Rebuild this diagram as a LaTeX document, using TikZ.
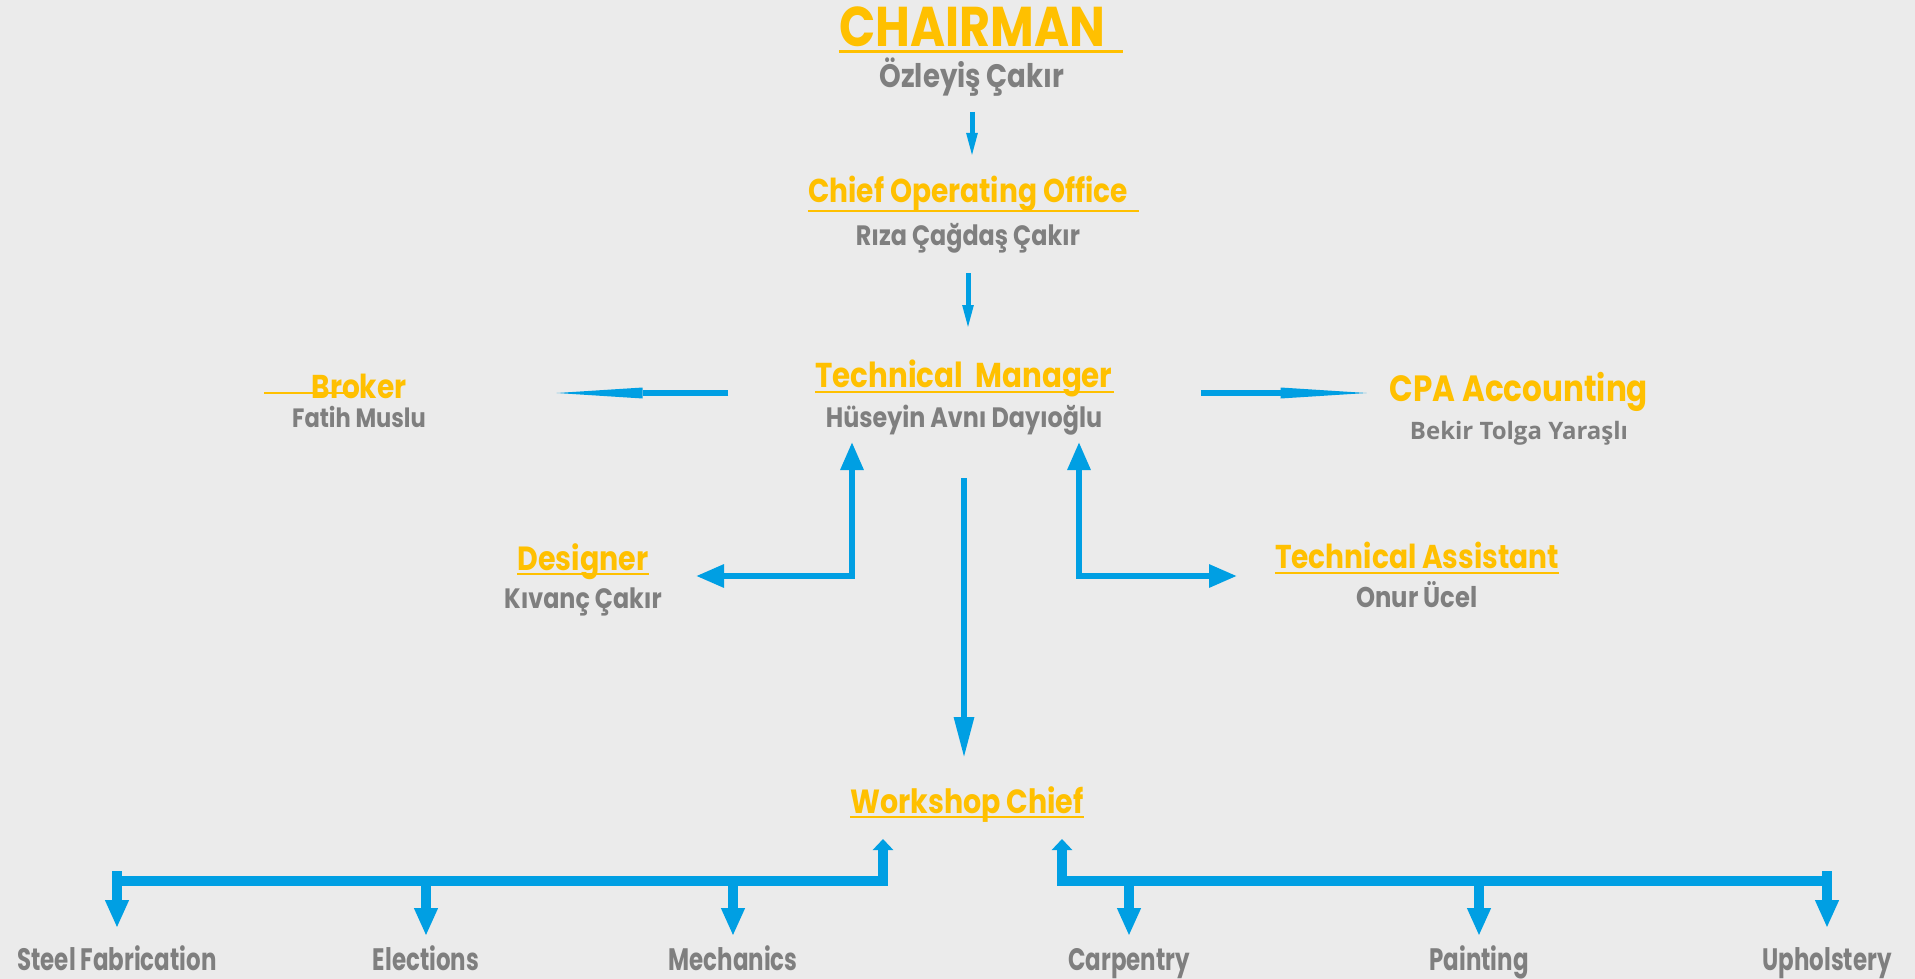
\documentclass[tikz,border=0pt]{standalone}
\usepackage{fontspec}
\newfontfamily\gothic{Poppins}[FakeStretch=0.85]
\newfontfamily\gothicnarrow{Poppins}[FakeStretch=0.74]
\newfontfamily\opensans{Open Sans}
\usetikzlibrary{arrows.meta}
\usetikzlibrary{positioning}
\definecolor{bggray}{HTML}{EBEBEB}
\definecolor{gold}{HTML}{FFC000}
\definecolor{namegray}{HTML}{7F7F7F}
\definecolor{lineblue}{HTML}{009FE3}
\newcommand{\fsz}[1]{\fontsize{#1}{#1}\selectfont}
\tikzset{
    >={Triangle[length=28pt,width=22pt]},
    base/.style =   {inner sep=0pt, anchor=base},
    title/.style =  {base, text=gold, font=\gothic\bfseries\fsz{#1}},
    person/.style = {base, text=namegray, font=\gothic\bfseries\fsz{#1}},
    dept/.style =   {base, text=namegray, font=\gothicnarrow\bfseries\fsz{31}},
    uline/.style =  {draw=gold, line width=2.5pt},
    feed/.style =   {draw=lineblue, line width=5pt, -{Triangle[length=25pt,width=10pt]}},
    wedge/.style =  {draw=lineblue, line width=5.5pt, -{Triangle[length=86pt,width=11pt,line width=0pt]}},
    link/.style =   {draw=lineblue, line width=6pt},
    bus/.style =    {draw=lineblue, line width=10pt}
}

\begin{document}
\begin{tikzpicture}[x=1pt, y=-1pt]
    \useasboundingbox (0,0) rectangle (1915,979);
    \fill[bggray] (0,0) rectangle (1915,979);

    \node (chair)   [title=56] at (972,47)      {CHAIRMAN};
    \node (ozl)     [below=41pt of chair.base, person=32.5] {Özleyiş Çakır};

    \node (coo)     [title=33] at (968,203)     {Chief Operating Office};
    \node (riza)    [below=42pt of coo.base, person=28]     {Rıza Çağdaş Çakır};

    \node (tm)      [title=34.5] at (964,387)   {Technical\ \ Manager};
    \node (hus)     [below=40pt of tm.base, person=28]      {Hüseyin Avnı Dayıoğlu};

    \node (broker)  [title=33] at (359,398)     {Broker};
    \node (fatih)   [below=29pt of broker.base, person=26.5] {Fatih Muslu};

    \node (cpa)     [title=36.5] at (1519,401)  {CPA Accounting};
    \node (bekir)   [below=38pt of cpa.base, base, text=namegray, font=\opensans\bfseries\fsz{24}] {Bekir Tolga Yaraşlı};

    \node (des)     [title=33.5] at (583,570)   {Designer};
    \node (kiv)     [below=38pt of des.base, person=28]     {Kıvanç Çakır};

    \node (ta)      [title=33] at (1417,568)    {Technical Assistant};
    \node (onur)    [below=39pt of ta.base, person=28.5]    {Onur Ücel};

    \node (wsc)     [title=33.5] at (967,813)   {Workshop Chief};

    \node (steel)   [dept] at (117,970)     {Steel Fabrication};
    \node (elec)    [dept] at (426,970)     {Elections};
    \node (mech)    [dept] at (733,970)     {Mechanics};
    \node (carp)    [dept] at (1129,970)    {Carpentry};
    \node (paint)   [dept] at (1479,970)    {Painting};
    \node (uph)     [dept] at (1827,970)    {Upholstery};

    % underlines
    \draw[uline, line width=3pt] ([yshift=-5pt]chair.base west) -- ([xshift=18pt,yshift=-5pt]chair.base east);
    \draw[uline] ([yshift=-8pt]coo.base west) -- ([xshift=11pt,yshift=-8pt]coo.base east);
    \draw[uline] ([yshift=-5pt]tm.base west) -- ([xshift=1pt,yshift=-5pt]tm.base east);
    \draw[uline] ([yshift=-4pt]des.base west) -- ([yshift=-4pt]des.base east);
    \draw[uline] ([yshift=-5pt]ta.base west) -- ([yshift=-5pt]ta.base east);
    \draw[uline] ([yshift=-4pt]wsc.base west) -- ([yshift=-4pt]wsc.base east);
    \draw[uline, line width=2pt] ([xshift=-47pt,yshift=5pt]broker.base west) -- ([xshift=47pt,yshift=5pt]broker.base west);

    % chain of command
    \draw[feed, shorten <=24pt, shorten >=45pt] (ozl.base) -- (ozl.base |- coo.base);
    \draw[feed, shorten <=28pt, shorten >=57pt] (riza.base) -- (riza.base |- tm.base);

    % side offices
    \draw[wedge, shorten <=87pt, shorten >=150pt] ([yshift=-6pt]tm.base west) -- ([yshift=-6pt]tm.base west -| broker.east);
    \draw[wedge, shorten <=88pt, shorten >=23pt] ([yshift=-6pt]tm.base east) -- ([yshift=-6pt]tm.base east -| cpa.west);
    \draw[link, <->] ([xshift=-112pt,yshift=-15pt]hus.base) |- ([xshift=113pt,yshift=-6pt]des.base);
    \draw[link, <->] ([xshift=115pt,yshift=-15pt]hus.base) |- ([xshift=-180pt,yshift=-8pt]ta.base);
    \draw[link, -{Triangle[length=41pt,width=19pt]}, shorten <=51pt, shorten >=55pt] (hus.base) -- (hus.base |- wsc.base);

    % workshop units
    \draw[bus, {Triangle[length=11pt,width=20pt]}-] ([xshift=-84pt,yshift=-26pt]wsc.base) |- ([yshift=89pt]steel.base);
    \draw[bus, {Triangle[length=11pt,width=20pt]}-] ([xshift=95pt,yshift=-26pt]wsc.base) |- ([yshift=89pt]uph.base);
    \draw[bus, ->] ([yshift=99pt]steel.base) -- ([yshift=42pt]steel.base);
    \draw[bus, ->] ([yshift=89pt]elec.base) -- ([yshift=34pt]elec.base);
    \draw[bus, ->] ([yshift=89pt]mech.base) -- ([yshift=34pt]mech.base);
    \draw[bus, ->] ([yshift=89pt]carp.base) -- ([yshift=34pt]carp.base);
    \draw[bus, ->] ([yshift=89pt]paint.base) -- ([yshift=34pt]paint.base);
    \draw[bus, ->] ([yshift=99pt]uph.base) -- ([yshift=42pt]uph.base);
\end{tikzpicture}
\end{document}
